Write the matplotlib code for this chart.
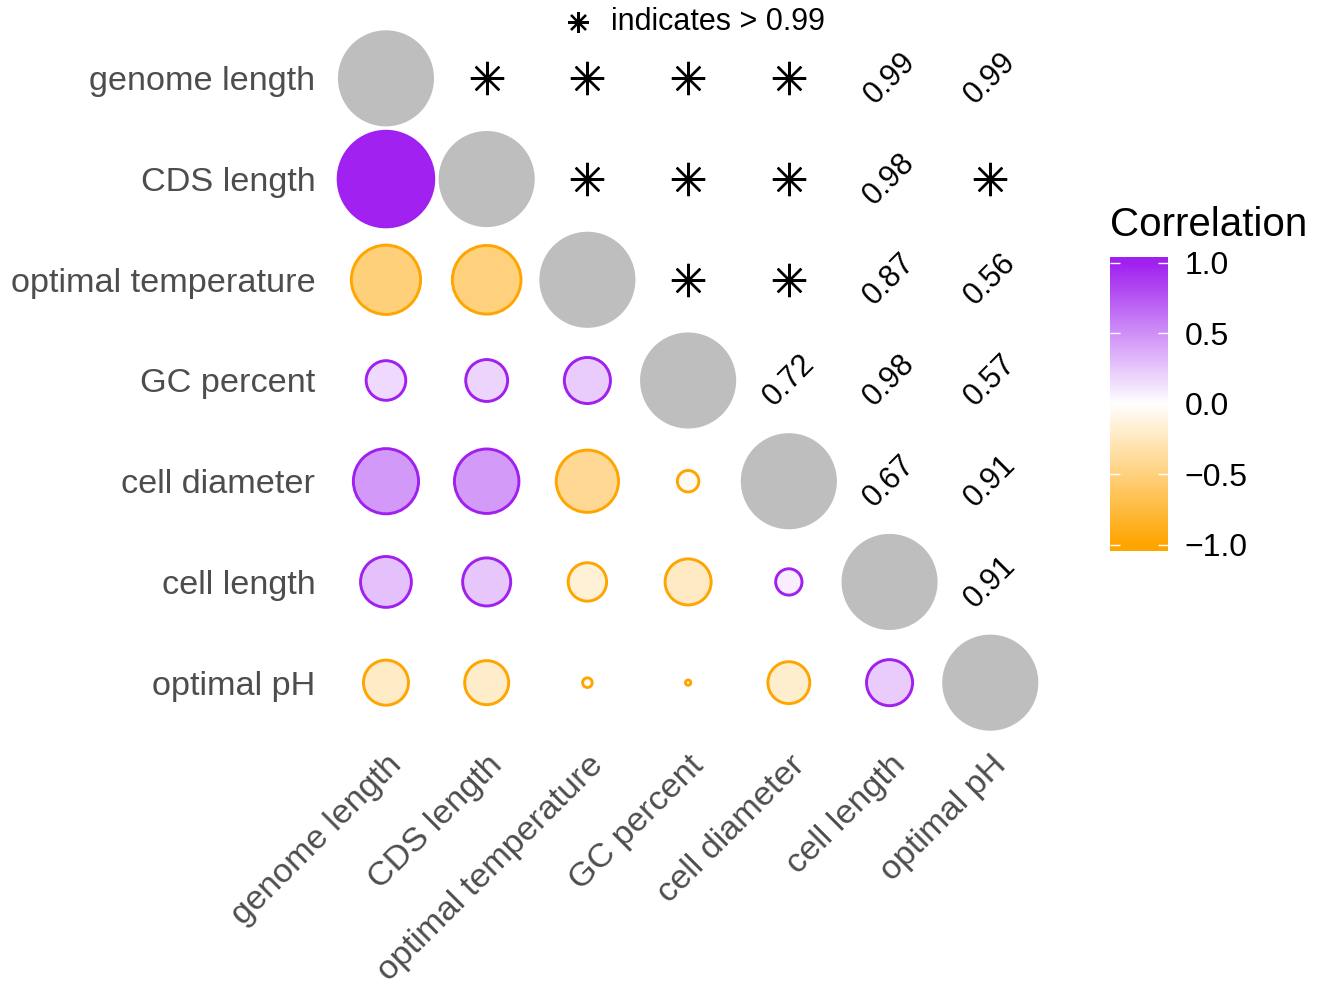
import numpy as np
import matplotlib
matplotlib.use("Agg")
import matplotlib.pyplot as plt
from matplotlib.colors import LinearSegmentedColormap, Normalize
from matplotlib.patches import Circle

plt.rcParams['font.family'] = ['Liberation Sans', 'DejaVu Sans']

traits = ["genome length", "CDS length", "optimal temperature", "GC percent",
          "cell diameter", "cell length", "optimal pH"]

# lower triangle: correlation coefficients, row by row
corr_lower = [
    [0.99],
    [-0.52, -0.51],
    [0.17, 0.19, 0.23],
    [0.46, 0.45, -0.42, -0.05],
    [0.28, 0.25, -0.16, -0.23, 0.075],
    [-0.22, -0.21, -0.010, -0.003, -0.19, 0.23],
]

# upper triangle labels, row by row ("*" = above 0.99)
upper_labels = [
    ["*", "*", "*", "*", "0.99", "0.99"],
    ["*", "*", "*", "0.98", "*"],
    ["*", "*", "0.87", "0.56"],
    ["0.72", "0.98", "0.57"],
    ["0.67", "0.91"],
    ["0.91"],
]

cmap = LinearSegmentedColormap.from_list("orpu", ["#FFA500", "#FFFFFF", "#A020F0"])
norm = Normalize(-1, 1)
label_grey = "#4D4D4D"
star = (8, 2, 0)

fig = plt.figure(figsize=(13.27, 9.86), dpi=100)
ax = fig.add_axes([0.2529, 0.2562, 0.5313, 0.7158])
n = len(traits)
ax.set_xlim(0.5, n + 0.5)
ax.set_ylim(n + 0.5, 0.5)
ax.set_aspect("equal")

rmax = 0.477
for i in range(n):
    # diagonal
    ax.add_patch(Circle((i + 1, i + 1), rmax, facecolor="#BEBEBE", edgecolor="none"))
    for j in range(i):
        r = corr_lower[i - 1][j]
        edge = "#A020F0" if r > 0 else "#FFA500"
        ax.add_patch(Circle((j + 1, i + 1), rmax * np.sqrt(abs(r)),
                            facecolor=cmap(norm(r)), edgecolor=edge, lw=2.1))
    for k, lab in enumerate(upper_labels[i] if i < n - 1 else []):
        j = i + 1 + k
        if lab == "*":
            ax.plot(j + 1, i + 1, marker=star, ms=24, mew=1.7, color="black")
        else:
            ax.text(j + 1, i + 1, lab, rotation=45, ha="center", va="center",
                    fontsize=22, color="black")

for s in ax.spines.values():
    s.set_visible(False)
ax.set_xticks(range(1, n + 1))
ax.set_yticks(range(1, n + 1))
ax.set_yticklabels(traits, fontsize=24.7, color=label_grey)
ax.set_xticklabels(traits, fontsize=24.7, color=label_grey, rotation=45,
                   ha="right", va="top", rotation_mode="anchor")
ax.tick_params(length=0)
ax.tick_params(axis="y", pad=14.5)
ax.tick_params(axis="x", pad=12)

# note above the grid
ax.plot([578 / 1327], [1 - 22 / 986], transform=fig.transFigure, marker=star,
        ms=15, mew=1.6, color="black", clip_on=False)
fig.text(611 / 1327, 1 - 22 / 986, "indicates > 0.99", fontsize=22,
         va="center", ha="left", color="black")

# colour bar
ext = 1.0426
cax = fig.add_axes([0.8365, 0.4412, 0.0437, 0.2982])
grad = np.linspace(-ext, ext, 256).reshape(-1, 1)
cax.imshow(grad, cmap=cmap, norm=norm, extent=[0, 1, -ext, ext],
           aspect="auto", origin="lower")
cax.set_xticks([])
cax.set_yticks([-1, -0.5, 0, 0.5, 1])
cax.set_yticklabels(["\u22121.0", "\u22120.5", "0.0", "0.5", "1.0"])
cax.tick_params(axis="y", left=True, right=True, labelleft=False, labelright=True,
                direction="in", length=7, width=1, color="white",
                labelcolor="black", labelsize=23, pad=12)
for s in cax.spines.values():
    s.set_visible(False)
fig.text(1110 / 1327, 1 - 225 / 986, "Correlation", fontsize=29,
         va="center", ha="left", color="black")

fig.savefig("out.png", dpi=100)
